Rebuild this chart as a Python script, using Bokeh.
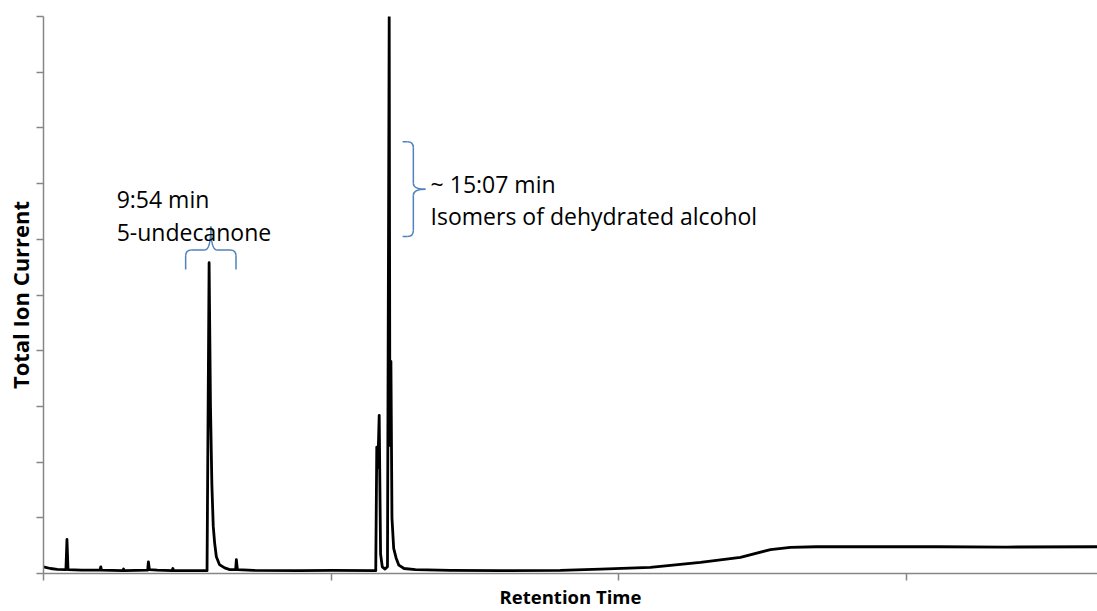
from bokeh.plotting import figure
from bokeh.models import Range1d, FixedTicker, Label, ColumnDataSource, CustomJSTickFormatter
from bokeh.embed import file_html
from bokeh.resources import INLINE

# ---- data: retention time (min) vs total ion current (arbitrary units) ----
rt = [5.10, 5.30, 5.50, 5.75, 5.78, 5.81, 6.20, 6.74, 6.76, 6.78, 7.40, 7.42, 7.44,
      8.12, 8.14, 8.17, 8.40, 8.83, 8.85, 8.87, 9.84, 9.90, 9.94, 9.98, 10.02, 10.06,
      10.11, 10.20, 10.35, 10.50, 10.67, 10.69, 10.72, 11.20, 12.50, 13.50, 14.73,
      14.76, 14.79, 14.83, 14.87, 14.92, 15.00, 15.07, 15.12, 15.14, 15.17, 15.20,
      15.25, 15.32, 15.40, 15.55, 15.88, 16.90, 18.35, 20.08, 21.25, 22.69, 24.14,
      25.30, 26.17, 26.75, 27.50, 29.00, 31.00, 33.00, 35.65]
tic = [0.12, 0.09, 0.075, 0.07, 0.61, 0.07, 0.06, 0.06, 0.12, 0.06, 0.05, 0.08, 0.05,
       0.06, 0.21, 0.07, 0.06, 0.05, 0.09, 0.05, 0.05, 5.58, 3.00, 1.60, 0.85, 0.55,
       0.30, 0.16, 0.10, 0.07, 0.07, 0.25, 0.07, 0.055, 0.05, 0.055, 0.05,
       2.27, 1.90, 2.84, 0.35, 0.12, 0.08, 0.12, 10.0, 2.30, 3.81, 1.00,
       0.45, 0.28, 0.15, 0.09, 0.07, 0.055, 0.05, 0.055, 0.08, 0.11, 0.20,
       0.29, 0.43, 0.47, 0.48, 0.48, 0.48, 0.475, 0.48]

x_ticks = [5.10, 13.44, 21.78, 30.12]
y_ticks = [0, 1, 2, 3, 4, 5, 6, 7, 8, 9, 10]

# annotations
ann_text = ["9:54 min", "5-undecanone", "~ 15:07 min", "Isomers of dehydrated alcohol"]
ann_x = [7.22, 7.22, 16.32, 16.32]
ann_y = [6.73, 6.14, 7.00, 6.42]

# brace 1 (horizontal, opening down) over the 9:54 peak
b1_xc, b1_half, b1_ybot, b1_ymid, b1_ytip = 9.95, 0.73, 5.46, 5.81, 6.23
# brace 2 (vertical, opening left) next to the 15:07 peaks
b2_yc, b2_half, b2_xend, b2_xmid, b2_xtip = 6.90, 0.85, 15.51, 15.82, 16.17

BLUE = "#4F81BD"
AXIS = "#868686"

p = figure(width=1097, height=611, output_backend="svg", toolbar_location=None,
           x_range=Range1d(5.10, 35.65), y_range=Range1d(0, 10),
           min_border_left=43, min_border_right=0, min_border_top=16, min_border_bottom=36)
p.outline_line_color = None
p.grid.visible = False
p.background_fill_color = "white"
p.border_fill_color = "white"

p.line(rt, tic, line_color="black", line_width=2.8, line_join="round")

blank = CustomJSTickFormatter(code="return ''")
for ax in (p.xaxis, p.yaxis):
    ax.axis_line_color = AXIS
    ax.axis_line_width = 1.5
    ax.major_tick_line_color = AXIS
    ax.major_tick_line_width = 1.5
    ax.major_tick_in = 0
    ax.major_tick_out = 7
    ax.minor_tick_line_color = None
    ax.formatter = blank
    ax.major_label_standoff = 0
    ax.axis_label_text_font = "Open Sans"
    ax.axis_label_text_font_style = "bold"
    ax.axis_label_text_color = "black"
p.xaxis.ticker = FixedTicker(ticks=x_ticks)
p.yaxis.ticker = FixedTicker(ticks=y_ticks)
p.xaxis.axis_label = "Retention Time"
p.yaxis.axis_label = "Total Ion Current"
p.xaxis.axis_label_text_font_size = "18.5px"
p.yaxis.axis_label_text_font_size = "22px"
p.xaxis.axis_label_standoff = 3
p.yaxis.axis_label_standoff = 2

for t, x, y in zip(ann_text, ann_x, ann_y):
    p.add_layout(Label(x=x, y=y, text=t, text_font="Open Sans", text_font_size="23px",
                       text_color="black", text_baseline="middle", text_align="left"))

# brace geometry helpers (pixel radii converted to data units)
rx = 6 / 34.5
ry = 6 / 55.9

seg = dict(x0=[], y0=[], x1=[], y1=[])
quad = dict(x0=[], y0=[], x1=[], y1=[], cx=[], cy=[])

def add_seg(a, b, c, d):
    seg["x0"].append(a); seg["y0"].append(b); seg["x1"].append(c); seg["y1"].append(d)

def add_quad(a, b, c, d, e, f):
    quad["x0"].append(a); quad["y0"].append(b); quad["x1"].append(c); quad["y1"].append(d)
    quad["cx"].append(e); quad["cy"].append(f)

# horizontal brace
for s in (-1, 1):
    xe = b1_xc + s * b1_half
    add_seg(xe, b1_ybot, xe, b1_ymid - ry)
    add_quad(xe, b1_ymid - ry, xe - s * rx, b1_ymid, xe, b1_ymid)
    add_seg(xe - s * rx, b1_ymid, b1_xc + s * rx, b1_ymid)
    add_quad(b1_xc + s * rx, b1_ymid, b1_xc, b1_ytip, b1_xc, b1_ymid)

# vertical brace
for s in (-1, 1):
    ye = b2_yc + s * b2_half
    add_seg(b2_xend, ye, b2_xmid - rx, ye)
    add_quad(b2_xmid - rx, ye, b2_xmid, ye - s * ry, b2_xmid, ye)
    add_seg(b2_xmid, ye - s * ry, b2_xmid, b2_yc + s * ry)
    add_quad(b2_xmid, b2_yc + s * ry, b2_xtip, b2_yc, b2_xmid, b2_yc)

p.segment(source=ColumnDataSource(seg), x0="x0", y0="y0", x1="x1", y1="y1",
          line_color=BLUE, line_width=1.5)
p.quadratic(source=ColumnDataSource(quad), x0="x0", y0="y0", x1="x1", y1="y1",
            cx="cx", cy="cy", line_color=BLUE, line_width=1.5)

open("out.html", "w").write(file_html(p, INLINE))
